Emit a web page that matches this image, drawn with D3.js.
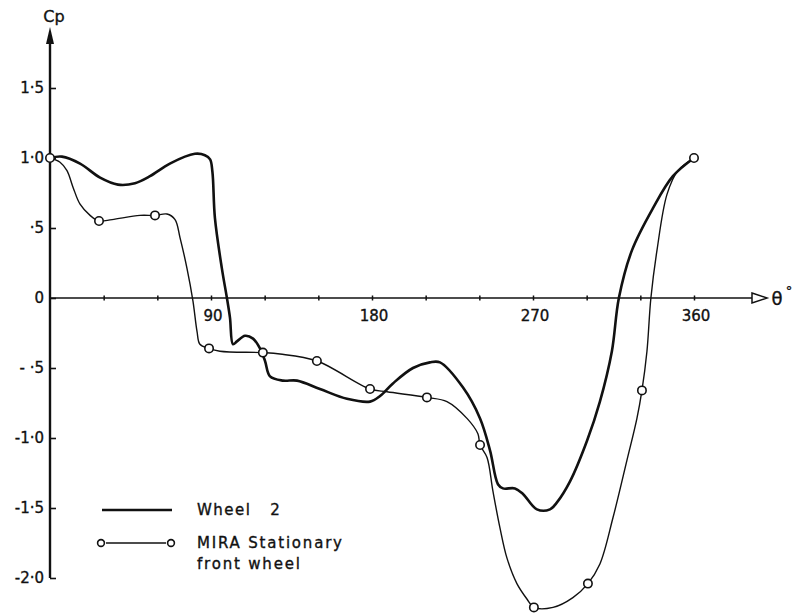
<!DOCTYPE html>
<html><head><meta charset="utf-8">
<script src="https://cdn.jsdelivr.net/npm/d3@7"></script>
<style>
body{margin:0;background:#fff;}
svg{display:block;}
text{font-family:"DejaVu Sans","Liberation Sans",sans-serif;fill:#111;stroke:#111;stroke-width:0.35;}
</style></head><body>
<svg id="c" width="796" height="613"></svg>
<script>
// --- data ---
const wheel2Theta = [0,6.7,16.8,28,38,47.5,55.9,67,81,86.6,89.5,90.8,92.2,96.1,98.9,100.6,102.3,104.5,109,113.5,117.4,120.2,123,130.2,138.1,150.9,166,178.9,184.5,191.7,202.9,212.4,218,230.9,240.4,246,250.4,253.2,259.9,264.4,272.2,279.5,283.4,290.7,300.2,307.4,314.1,318,325.3,337,348.2,360];
const wheel2Cp    = [1.0,1.01,0.96,0.86,0.81,0.82,0.87,0.96,1.03,1.02,0.99,0.9,0.57,0.21,0,-0.14,-0.33,-0.31,-0.27,-0.29,-0.36,-0.45,-0.56,-0.59,-0.59,-0.65,-0.72,-0.74,-0.70,-0.61,-0.50,-0.46,-0.46,-0.64,-0.86,-1.09,-1.33,-1.36,-1.36,-1.40,-1.51,-1.51,-1.46,-1.31,-1.02,-0.74,-0.38,0,0.34,0.64,0.87,1.0];

const miraTheta = [0,5.6,9.5,12.9,16.8,22.4,27.4,34.7,50.3,58.7,65.4,69.9,72.7,76.6,79.9,82.2,83.8,88.9,95,119,128.6,149.2,178.9,188.4,210.7,221.9,233.1,239.2,240.4,244.3,247.6,251.5,255.5,261,266.6,270.5,281.2,292.3,300.7,307.4,314.7,322.5,328.1,330.9,333.7,335.9,339.3,344.9,351,360];
const miraCp    = [1.0,0.97,0.91,0.79,0.67,0.59,0.55,0.56,0.59,0.59,0.60,0.56,0.43,0.21,-0.02,-0.24,-0.33,-0.36,-0.38,-0.39,-0.40,-0.45,-0.65,-0.67,-0.71,-0.74,-0.86,-0.97,-1.05,-1.14,-1.38,-1.64,-1.86,-2.04,-2.15,-2.21,-2.21,-2.14,-2.04,-1.90,-1.57,-1.16,-0.86,-0.66,-0.38,0,0.34,0.74,0.91,1.0];

const miraMarkTheta = [0,27.4,58.7,88.9,119,149.2,178.9,210.7,240.4,270.5,300.7,330.9,360];
const miraMarkCp    = [1.0,0.55,0.59,-0.36,-0.39,-0.45,-0.65,-0.71,-1.05,-2.21,-2.04,-0.66,1.0];

const yTickValues = [1.5,1.0,0.5,0,-0.5,-1.0,-1.5,-2.0];
const yTickLabels = ["1·5","1·0","·5","0","- ·5","-1·0","-1·5","-2·0"];
const xTickValues = [30,60,90,120,150,180,210,240,270,300,330,360];
const xLabelValues = [90,180,270,360];
const seriesNames = ["Wheel   2","MIRA Stationary","front wheel"];

// --- drawing ---
const svg = d3.select("#c");
const x = d3.scaleLinear().domain([0,360]).range([50,694]);
const y = d3.scaleLinear().domain([-2,1]).range([578,158]);

const ink = "#111";
const X0 = x(0);

// y axis
svg.append("line").attr("x1",X0).attr("x2",X0).attr("y1",y(-2)).attr("y2",40)
  .attr("stroke",ink).attr("stroke-width",2.4);
svg.append("path").attr("d",`M${X0-4},44 L${X0},27 L${X0+4},44 Z`).attr("fill",ink);
svg.append("text").attr("x",X0+4).attr("y",22).attr("text-anchor","middle")
  .attr("font-size",16).text("Cp");

const yAxis = d3.axisRight(y).tickValues(yTickValues).tickSize(6).tickFormat("");
const gy = svg.append("g").attr("transform",`translate(${X0},0)`).call(yAxis);
gy.select(".domain").remove();
gy.selectAll(".tick line").attr("stroke",ink).attr("stroke-width",1.6);
yTickValues.forEach((v,i)=>{
  svg.append("text").attr("x",X0-6).attr("y",y(v)+5).attr("text-anchor","end")
    .attr("font-size",15).text(yTickLabels[i]);
});

// x axis
const y0 = y(0);
svg.append("line").attr("x1",X0).attr("x2",752).attr("y1",y0).attr("y2",y0)
  .attr("stroke",ink).attr("stroke-width",1.5);
svg.append("path").attr("d",`M752,${y0-5} L767,${y0} L752,${y0+5} Z`)
  .attr("fill","#fff").attr("stroke",ink).attr("stroke-width",1.5);
svg.append("text").attr("x",777).attr("y",y0+7).attr("text-anchor","middle")
  .attr("font-size",18).text("θ");
svg.append("text").attr("x",789).attr("y",y0-3).attr("text-anchor","middle")
  .attr("font-size",13).text("°");

const xAxis = d3.axisBottom(x).tickValues(xTickValues).tickSize(5).tickFormat("");
const gx = svg.append("g").attr("transform",`translate(0,${y0-2.5})`).call(xAxis);
gx.select(".domain").remove();
gx.selectAll(".tick line").attr("stroke",ink).attr("stroke-width",1.5);
xLabelValues.forEach(v=>{
  svg.append("text").attr("x",x(v)+2).attr("y",y0+23).attr("text-anchor","middle")
    .attr("font-size",15).text(String(v));
});

// curves
const line = d3.line().x(d=>x(d[0])).y(d=>y(d[1])).curve(d3.curveCatmullRom.alpha(0.5));
const w2 = wheel2Theta.map((t,i)=>[t,wheel2Cp[i]]);
const mi = miraTheta.map((t,i)=>[t,miraCp[i]]);

svg.append("path").attr("d",line(mi)).attr("fill","none").attr("stroke",ink).attr("stroke-width",1.4);
svg.append("path").attr("d",line(w2)).attr("fill","none").attr("stroke",ink).attr("stroke-width",2.6)
  .attr("stroke-linejoin","round");

svg.selectAll("circle.m").data(miraMarkTheta.map((t,i)=>[t,miraMarkCp[i]])).enter()
  .append("circle").attr("class","m")
  .attr("cx",d=>x(d[0])).attr("cy",d=>y(d[1])).attr("r",4.2)
  .attr("fill","#fff").attr("stroke",ink).attr("stroke-width",1.6);

// legend
svg.append("line").attr("x1",102).attr("x2",172).attr("y1",510).attr("y2",510)
  .attr("stroke",ink).attr("stroke-width",2.6);
svg.append("text").attr("x",197).attr("y",515).attr("font-size",15)
  .attr("letter-spacing",1.5).style("white-space","pre").text(seriesNames[0]);
svg.append("line").attr("x1",106).attr("x2",166).attr("y1",543).attr("y2",543)
  .attr("stroke",ink).attr("stroke-width",1.4);
[101,171].forEach(cx=>{
  svg.append("circle").attr("cx",cx).attr("cy",543).attr("r",3.4)
    .attr("fill","#fff").attr("stroke",ink).attr("stroke-width",1.6);
});
svg.append("text").attr("x",197).attr("y",548).attr("font-size",15)
  .attr("letter-spacing",1.8).text(seriesNames[1]);
svg.append("text").attr("x",197).attr("y",569).attr("font-size",15)
  .attr("letter-spacing",1.8).text(seriesNames[2]);
</script>
</body></html>
